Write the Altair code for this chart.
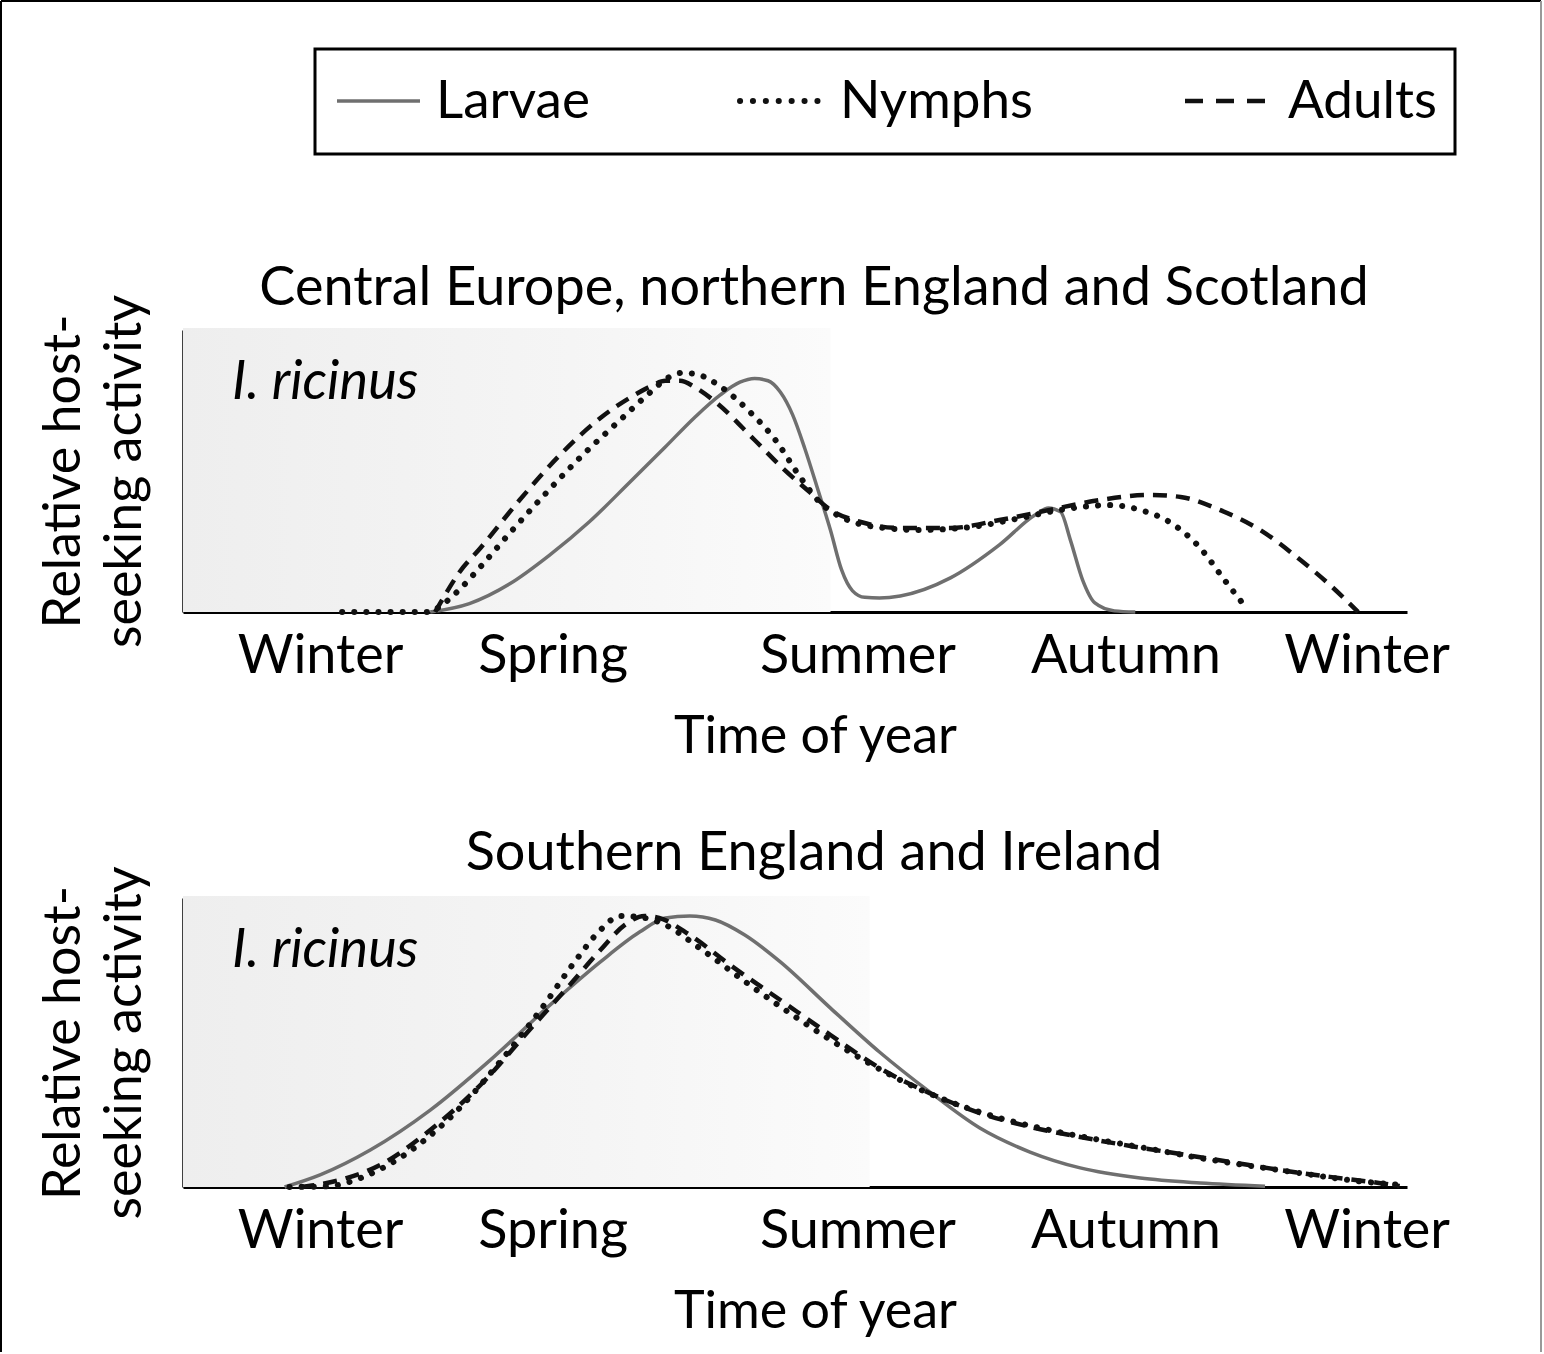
import altair as alt
import pandas as pd

# ---------------- data ----------------
seasons = ["Winter", "Spring", "Summer", "Autumn", "Winter"]
season_pos = [11.2, 30.2, 55.1, 77.0, 96.7]

series_names = ["Larvae", "Nymphs", "Adults"]

# Panel 1: Central Europe, northern England and Scotland
p1_larvae_x = [20.2, 23.4, 26.7, 29.9, 33.2, 36.5, 39.4, 41.8, 43.9, 45.5, 46.7, 47.8, 48.8, 49.8, 50.8, 51.9, 52.9, 53.8, 54.7, 55.7, 56.9, 58.6, 62.7, 66.7, 69.6, 70.7, 71.7, 72.5, 73.5, 74.5, 76.1, 77.8]
p1_larvae_y = [0.0, 0.030, 0.100, 0.200, 0.320, 0.460, 0.585, 0.690, 0.770, 0.815, 0.828, 0.820, 0.780, 0.700, 0.580, 0.430, 0.290, 0.150, 0.075, 0.052, 0.050, 0.057, 0.121, 0.238, 0.344, 0.369, 0.355, 0.255, 0.113, 0.032, 0.004, 0.0]
p1_nymphs_x = [13.0, 20.2, 21.0, 22.6, 24.3, 26.7, 29.2, 32.5, 35.7, 38.2, 39.6, 40.8, 42.2, 43.9, 46.3, 48.4, 50.4, 52.0, 54.1, 56.9, 60.2, 64.3, 68.4, 71.7, 75.7, 78.2, 80.6, 83.1, 85.1, 87.0]
p1_nymphs_y = [0.0, 0.0, 0.020, 0.080, 0.160, 0.280, 0.400, 0.550, 0.680, 0.780, 0.830, 0.848, 0.840, 0.800, 0.710, 0.610, 0.480, 0.390, 0.330, 0.300, 0.291, 0.301, 0.333, 0.362, 0.379, 0.362, 0.319, 0.227, 0.113, 0.007]
p1_adults_x = [20.6, 21.4, 22.6, 24.3, 27.5, 30.8, 34.1, 36.6, 38.2, 39.4, 40.6, 41.9, 43.5, 46.7, 49.0, 51.2, 52.9, 55.3, 58.6, 62.7, 66.7, 70.8, 74.9, 79.0, 81.5, 84.7, 88.0, 91.3, 93.7, 96.0]
p1_adults_y = [0.0, 0.060, 0.142, 0.227, 0.397, 0.557, 0.688, 0.762, 0.800, 0.820, 0.820, 0.795, 0.745, 0.610, 0.510, 0.425, 0.362, 0.320, 0.298, 0.298, 0.326, 0.362, 0.397, 0.415, 0.408, 0.362, 0.291, 0.184, 0.096, 0.0]

# Panel 2: Southern England and Ireland
p2_larvae_x = [8.3, 11.2, 15.3, 20.2, 25.1, 30.0, 34.1, 37.3, 39.4, 41.4, 43.5, 45.9, 48.8, 52.9, 56.9, 61.0, 65.1, 69.2, 73.3, 78.2, 83.1, 88.4]
p2_larvae_y = [0.0, 0.042, 0.128, 0.266, 0.439, 0.630, 0.779, 0.882, 0.931, 0.938, 0.924, 0.872, 0.779, 0.619, 0.467, 0.329, 0.204, 0.121, 0.066, 0.031, 0.014, 0.003]
p2_nymphs_x = [8.7, 12.0, 14.5, 17.7, 21.8, 25.9, 29.2, 32.0, 34.1, 35.7, 37.3, 39.4, 42.2, 46.3, 50.4, 54.5, 58.6, 62.7, 66.7, 70.8, 74.9, 79.0, 83.1, 87.2, 91.3, 95.3, 99.4]
p2_nymphs_y = [0.0, 0.003, 0.031, 0.100, 0.239, 0.433, 0.612, 0.779, 0.889, 0.938, 0.934, 0.907, 0.827, 0.699, 0.578, 0.467, 0.370, 0.294, 0.239, 0.197, 0.163, 0.132, 0.100, 0.073, 0.048, 0.024, 0.007]
p2_adults_x = [9.6, 12.8, 16.1, 20.2, 24.3, 28.3, 31.6, 34.1, 36.1, 37.7, 38.9, 41.4, 44.7, 48.8, 52.9, 56.9, 61.0, 65.1, 69.2, 73.3, 77.4, 81.5, 85.5, 89.6, 93.7, 97.7, 99.4]
p2_adults_y = [0.0, 0.024, 0.076, 0.197, 0.353, 0.543, 0.699, 0.820, 0.907, 0.938, 0.931, 0.872, 0.768, 0.647, 0.526, 0.412, 0.325, 0.256, 0.208, 0.173, 0.142, 0.114, 0.087, 0.059, 0.035, 0.014, 0.003]

panel_titles = ["Central Europe, northern England and Scotland", "Southern England and Ireland"]
species_label = "I. ricinus"
x_title = "Time of year"
y_title = ["Relative host-", "seeking activity"]
shade_end = [52.9, 56.1]

# ---------------- styling ----------------
FONT = "Lato"
FS = 52
W = 1224
H1, H2 = 282, 289

STYLES = {
    "Larvae": dict(color="#6f6f6f", strokeWidth=3.5),
    "Nymphs": dict(color="#111111", strokeWidth=6, strokeDash=[0.1, 12], strokeCap="round"),
    "Adults": dict(color="#111111", strokeWidth=4.5, strokeDash=[14, 9]),
}

label_expr = "[" + ",".join("'%s'" % s for s in seasons) + "][indexof([" + ",".join(str(v) for v in season_pos) + "], datum.value)]"


def curves_df(xs_list, ys_list):
    rows = []
    for name, xs, ys in zip(series_names, xs_list, ys_list):
        for i, (a, b) in enumerate(zip(xs, ys)):
            rows.append({"series": name, "x": a, "y": b, "order": i})
    return pd.DataFrame(rows)


one = pd.DataFrame({"k": [0]})


def panel(df, title, height, shade, title_dy, top=False):
    xscale = alt.Scale(domain=[0, 100], nice=False, zero=False)
    yscale = alt.Scale(domain=[0, 1], nice=False)
    xaxis = alt.Axis(
        values=season_pos, labelExpr=label_expr, ticks=False, grid=False,
        domainColor="black", domainWidth=3, labelFont=FONT, labelFontSize=54,
        labelColor="black", labelPadding=60, labelBaseline="alphabetic",
        labelOverlap=False, labelFlush=False, labelLimit=500, title=x_title, titleFont=FONT,
        titleFontSize=FS, titleFontWeight="normal", titleColor="black",
        titleX=632, titleY=140, titleBaseline="alphabetic", titleAlign="center",
    )
    yaxis = alt.Axis(
        labels=False, ticks=False, grid=False, domainColor="black", domainWidth=2.5,
        title=y_title, titleFont=FONT, titleFontSize=FS, titleFontWeight="normal",
        titleColor="black", titleLineHeight=61, titleX=-104, titleY=height / 2,
        titleBaseline="alphabetic", titleAlign="center", titleAngle=270,
    )
    shade_df = pd.DataFrame({"x0": [0], "x1": [shade]})
    grad = alt.LinearGradient(
        gradient="linear", x1=0, x2=1, y1=0, y2=0,
        stops=[alt.GradientStop(color="#eeeeee", offset=0),
               alt.GradientStop(color="#f5f5f5", offset=0.6),
               alt.GradientStop(color="#fbfbfb", offset=1)],
    )
    bg = alt.Chart(shade_df).mark_rect(fill=grad, strokeWidth=0).encode(
        x=alt.X("x0:Q", scale=xscale, axis=xaxis),
        x2="x1:Q",
        y=alt.value(-2),
        y2=alt.value(height),
    )
    layers = [bg]
    for name in ["Larvae", "Adults", "Nymphs"]:
        st = STYLES[name]
        layers.append(
            alt.Chart(df).transform_filter(alt.datum.series == name)
            .mark_line(interpolate="monotone", strokeJoin="round", **st)
            .encode(
                x=alt.X("x:Q", scale=xscale, axis=xaxis),
                y=alt.Y("y:Q", scale=yscale, axis=yaxis),
                order="order:Q",
            )
        )
    layers.append(
        alt.Chart(one).mark_text(font=FONT, fontSize=54, fontStyle="italic",
                                 align="left", baseline="alphabetic", color="black")
        .encode(x=alt.value(49), y=alt.value(69), text=alt.value(species_label))
    )
    layers.append(
        alt.Chart(one).mark_text(font=FONT, fontSize=54, align="center",
                                 baseline="alphabetic", color="black")
        .encode(x=alt.value(631), y=alt.value(title_dy), text=alt.value(title))
    )
    if top:
        # legend box
        layers.append(
            alt.Chart(one).mark_rect(fillOpacity=0, stroke="black", strokeWidth=3)
            .encode(x=alt.value(132), x2=alt.value(1272), y=alt.value(-281), y2=alt.value(-176))
        )
        leg = [("Larvae", 154, 237, 253), ("Nymphs", 557, 647, 657), ("Adults", 1002, 1084, 1105)]
        for name, a, b, t in leg:
            st = dict(STYLES[name])
            if name == "Adults":
                st["strokeDash"] = [18, 13]
            if name == "Nymphs":
                st["strokeDash"] = [0.1, 12.8]
            layers.append(
                alt.Chart(one).mark_rule(**st)
                .encode(x=alt.value(a), x2=alt.value(b), y=alt.value(-229))
            )
            layers.append(
                alt.Chart(one).mark_text(font=FONT, fontSize=53, align="left",
                                         baseline="alphabetic", color="black")
                .encode(x=alt.value(t), y=alt.value(-212), text=alt.value(name))
            )
        # outer frame (top, left, right)
        layers.append(alt.Chart(one).mark_rule(color="black", strokeWidth=2)
                      .encode(x=alt.value(-182), x2=alt.value(1358), y=alt.value(-329)))
        layers.append(alt.Chart(one).mark_rule(color="black", strokeWidth=2)
                      .encode(x=alt.value(-182), y=alt.value(-329), y2=alt.value(1022)))
        layers.append(alt.Chart(one).mark_rule(color="#999999", strokeWidth=2)
                      .encode(x=alt.value(1358), y=alt.value(-329), y2=alt.value(1022)))
    return alt.layer(*layers).properties(width=W, height=height)


top = panel(curves_df([p1_larvae_x, p1_nymphs_x, p1_adults_x], [p1_larvae_y, p1_nymphs_y, p1_adults_y]),
            panel_titles[0], H1, shade_end[0], -25, top=True)
bottom = panel(curves_df([p2_larvae_x, p2_nymphs_x, p2_adults_x], [p2_larvae_y, p2_nymphs_y, p2_adults_y]),
               panel_titles[1], H2, shade_end[1], -28)

chart = alt.vconcat(top, bottom, spacing=286, bounds="flush").properties(
    padding=0, background="white"
).configure_view(strokeWidth=0)

chart.save("out.html", embed_options={"renderer": "svg", "actions": False})
